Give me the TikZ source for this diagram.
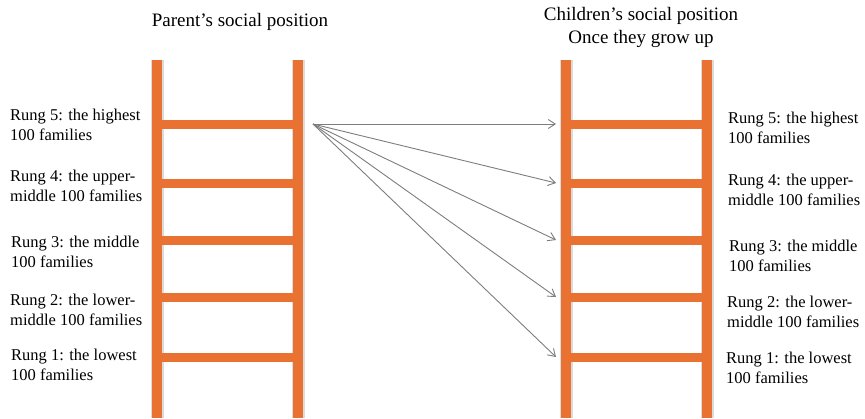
\documentclass[tikz,border=0pt]{standalone}
\usepackage{fontspec}
\setmainfont{Liberation Serif}
\usepackage{tikz}
\usetikzlibrary{positioning,arrows.meta,calc}
\definecolor{ladderorange}{RGB}{233,113,50}
\definecolor{movegray}{RGB}{125,125,125}
\tikzset{
  rail/.style={ladderorange,line width=10pt},
  railshade/.style={black!14,line width=13pt},
  rungbar/.style={ladderorange,line width=9pt},
  rungtext/.style={anchor=west,align=left,inner sep=0pt,font=\fontsize{16.5}{19.5}\selectfont},
  titletext/.style={align=center,inner sep=0pt,font=\fontsize{19}{23}\selectfont},
  move/.style={movegray,line width=0.9pt,-{Straight Barb[length=7pt,width=9pt]}},
}
\NewDocumentCommand{\drawladder}{ m m }
{
  % rails first, rungs over them
  \draw[railshade] (#1,60) -- (#1,418);
  \draw[railshade] (#1+141,60) -- (#1+141,418);
  \draw[rail] (#1,60) -- (#1,418);
  \draw[rail] (#1+141,60) -- (#1+141,418);
  \foreach \r/\y in {5/124,4/183,3/240,2/297,1/357}{
    \draw[rungbar] (#1,\y) -- (#1+141,\y);
    \coordinate (#2-\r-west) at (#1-10,\y);
    \coordinate (#2-\r-east) at (#1+156,\y);
  };
}

\begin{document}
\begin{tikzpicture}[x=1pt,y=-1pt]
  \useasboundingbox (0,0) rectangle (865,418);
  \drawladder{157}{parent}
  \drawladder{566}{child}
  % titles
  \node[titletext] (ptitle) at (240,22) {Parent’s social position};
  \node[titletext] (ctitle) at (641,27) {Children’s social position\\Once they grow up};
  % parent labels
  \node[rungtext] (pl5) at (10,125) {Rung 5: the highest\\100 families};
  \node[rungtext] (pl4) at (10,186) {Rung 4: the upper-\\middle 100 families};
  \node[rungtext] (pl3) at (11,252) {Rung 3: the middle\\100 families};
  \node[rungtext] (pl2) at (10,310) {Rung 2: the lower-\\middle 100 families};
  \node[rungtext] (pl1) at (11,365) {Rung 1: the lowest\\100 families};
  % children labels
  \node[rungtext] (cl5) at (728,128) {Rung 5: the highest\\100 families};
  \node[rungtext] (cl4) at (728,190) {Rung 4: the upper-\\middle 100 families};
  \node[rungtext] (cl3) at (729,256) {Rung 3: the middle\\100 families};
  \node[rungtext] (cl2) at (727,312) {Rung 2: the lower-\\middle 100 families};
  \node[rungtext] (cl1) at (726,368) {Rung 1: the lowest\\100 families};
  % moves from the top rung
  \foreach \r in {5,4,3,2,1}{
    \draw[move] (parent-5-east) -- (child-\r-west);
  };
\end{tikzpicture}
\end{document}
